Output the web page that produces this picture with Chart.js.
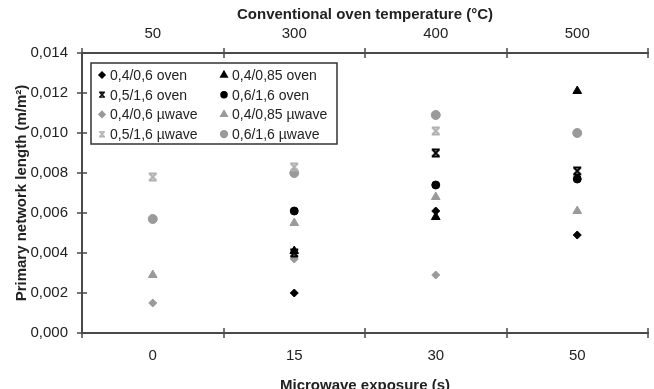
<!DOCTYPE html>
<html>
<head>
<meta charset="utf-8">
<script src="https://cdn.jsdelivr.net/npm/chart.js@4/dist/chart.umd.min.js"></script>
<style>
  html, body { margin: 0; padding: 0; background: #fff; overflow: hidden; }
  #wrap { width: 654px; height: 396px; }
</style>
</head>
<body>
<div id="wrap"><canvas id="chart"></canvas></div>
<script>
// categories
const exposureLabels = ['0', '15', '30', '50'];     // bottom axis (s)
const ovenLabels = ['50', '300', '400', '500'];     // top axis (°C)

// series values (m/m2), one per category, null = no point
const oven_04_06  = [null, 0.0020, 0.0061, 0.0049];
const oven_04_085 = [null, 0.0041, 0.0058, 0.0121];
const oven_05_16  = [null, 0.0040, 0.0090, 0.0081];
const oven_06_16  = [null, 0.0061, 0.0074, 0.0077];
const mw_04_06    = [0.0015, 0.0037, 0.0029, null];
const mw_04_085   = [0.0029, 0.0055, 0.0068, 0.0061];
const mw_05_16    = [0.0078, 0.0083, 0.0101, null];
const mw_06_16    = [0.0057, 0.0080, 0.0109, 0.0100];

const seriesNames = ['0,4/0,6 oven', '0,4/0,85 oven', '0,5/1,6 oven', '0,6/1,6 oven',
                     '0,4/0,6 µwave', '0,4/0,85 µwave', '0,5/1,6 µwave', '0,6/1,6 µwave'];

const FONT = "'Liberation Sans', Arial, sans-serif";
const TEXT = '#222';
const AXIS = '#4a4a4a';
const BLACK = '#000';
const GRAY = '#9a9a9a';
const LIGHT = '#b0b0b0';

// hourglass-like "x" marker as in the original
function makeX(color) {
  const c = document.createElement('canvas');
  c.width = 10; c.height = 10;
  const g = c.getContext('2d');
  g.strokeStyle = color;
  g.lineWidth = 2;
  g.beginPath();
  g.moveTo(2, 2); g.lineTo(8, 8);
  g.moveTo(8, 2); g.lineTo(2, 8);
  g.moveTo(1, 1.5); g.lineTo(9, 1.5);
  g.moveTo(1, 8.5); g.lineTo(9, 8.5);
  g.stroke();
  return c;
}

function series(label, data, style, color, radius) {
  return {
    label: label,
    data: data,
    showLine: false,
    pointStyle: style,
    pointRadius: radius,
    pointHoverRadius: radius,
    pointBackgroundColor: color,
    pointBorderColor: color,
    pointBorderWidth: 1,
    _color: color
  };
}

const datasets = [
  series(seriesNames[0], oven_04_06,  'rectRot',  BLACK, 4),
  series(seriesNames[1], oven_04_085, 'triangle', BLACK, 5),
  series(seriesNames[2], oven_05_16,  makeX(BLACK), BLACK, 5),
  series(seriesNames[3], oven_06_16,  'circle',   BLACK, 4),
  series(seriesNames[4], mw_04_06,    'rectRot',  GRAY, 4),
  series(seriesNames[5], mw_04_085,   'triangle', GRAY, 5),
  series(seriesNames[6], mw_05_16,    makeX(LIGHT), LIGHT, 5),
  series(seriesNames[7], mw_06_16,    'circle',   GRAY, 4.5)
];

// ticks crossing the axis lines
const crossTicks = {
  id: 'crossTicks',
  afterDraw(chart) {
    const ctx = chart.ctx, a = chart.chartArea;
    const n = exposureLabels.length, w = (a.right - a.left) / n;
    ctx.save();
    ctx.strokeStyle = AXIS;
    ctx.lineWidth = 1.5;
    ctx.beginPath();
    for (let i = 0; i <= n; i++) {
      const x = Math.round(a.left + i * w);
      [a.top, a.bottom].forEach(y => { ctx.moveTo(x, y - 5); ctx.lineTo(x, y + 5); });
    }
    chart.scales.y.ticks.forEach(t => {
      const y = Math.round(chart.scales.y.getPixelForValue(t.value));
      ctx.moveTo(a.left - 5, y); ctx.lineTo(a.left + 5, y);
    });
    ctx.stroke();
    ctx.restore();
  }
};

// boxed two-column legend inside the plot
const boxLegend = {
  id: 'boxLegend',
  afterDraw(chart) {
    const ctx = chart.ctx, a = chart.chartArea;
    const left = a.left + 9, top = a.top + 10, width = 246, height = 81;
    ctx.save();
    ctx.strokeStyle = '#333';
    ctx.lineWidth = 1.5;
    ctx.strokeRect(left, top, width, height);
    ctx.font = '14px ' + FONT;
    ctx.textBaseline = 'middle';
    ctx.fillStyle = TEXT;
    chart.data.datasets.forEach((ds, i) => {
      const col = i % 2, row = Math.floor(i / 2);
      const mx = left + 11 + col * 122;
      const my = top + 12 + row * 19.7;
      ctx.fillStyle = ds._color;
      ctx.strokeStyle = ds._color;
      if (typeof ds.pointStyle === 'string') {
        Chart.helpers.drawPoint(ctx, {
          pointStyle: ds.pointStyle, rotation: 0,
          radius: ds.pointRadius * 0.75, borderWidth: 1
        }, mx, my);
      } else {
        ctx.drawImage(ds.pointStyle, mx - 3.5, my - 3.5, 7, 7);
      }
      ctx.fillStyle = TEXT;
      ctx.fillText(ds.label, mx + 8, my + 1);
    });
    ctx.restore();
  }
};

new Chart(document.getElementById('chart'), {
  type: 'line',
  data: { labels: exposureLabels, datasets: datasets },
  plugins: [crossTicks, boxLegend],
  options: {
    responsive: true,
    maintainAspectRatio: false,
    animation: false,
    layout: { padding: { left: 0, right: 3, top: 0, bottom: 0 } },
    plugins: { legend: { display: false }, tooltip: { enabled: false } },
    scales: {
      x: {
        type: 'category',
        position: 'bottom',
        offset: true,
        grid: { display: false, drawTicks: false },
        border: { display: true, color: AXIS, width: 2 },
        ticks: { color: TEXT, padding: 14, font: { family: FONT, size: 15 } },
        title: {
          display: true, text: 'Microwave exposure (s)', color: TEXT,
          font: { family: FONT, size: 15, weight: 'bold' }, padding: { top: 0, bottom: 1 }
        },
        afterFit(s) { s.height = 63; }
      },
      x2: {
        type: 'category',
        position: 'top',
        labels: ovenLabels,
        offset: true,
        grid: { display: false, drawTicks: false },
        border: { display: true, color: AXIS, width: 2 },
        ticks: { color: TEXT, padding: 10, font: { family: FONT, size: 15 } },
        title: {
          display: true, text: 'Conventional oven temperature (°C)', color: TEXT,
          font: { family: FONT, size: 15, weight: 'bold' }, padding: { top: 6, bottom: 0 }
        },
        afterFit(s) { s.height = 53; }
      },
      y: {
        min: 0,
        max: 0.014,
        grid: { display: false, drawTicks: false },
        border: { display: true, color: AXIS, width: 2 },
        ticks: {
          stepSize: 0.002, color: TEXT, padding: 14,
          font: { family: FONT, size: 15 },
          callback: v => v.toFixed(3).replace('.', ',')
        },
        title: {
          display: true, text: 'Primary network length (m/m²)', color: TEXT,
          font: { family: FONT, size: 15, weight: 'bold' }, padding: { top: 13, bottom: 0 }
        },
        afterFit(s) { s.width = 82; }
      }
    }
  }
});
</script>
</body>
</html>
